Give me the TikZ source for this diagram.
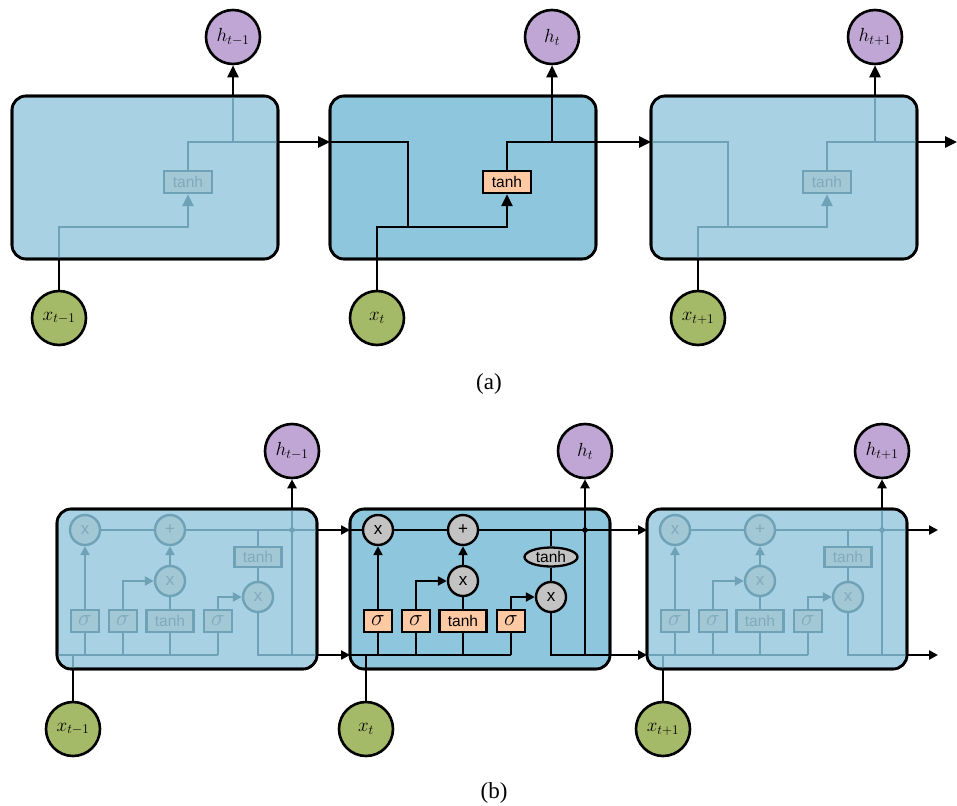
\RequirePackage{fix-cm}
\documentclass[tikz,border=0pt]{standalone}
\usepackage{fontspec}
\setmainfont{Liberation Serif}
\setsansfont{Liberation Sans}
\usetikzlibrary{arrows.meta,shapes.geometric}

\definecolor{cellblue}{HTML}{8EC6DD}
\definecolor{cellfade}{HTML}{A8D1E3}
\definecolor{fadeline}{HTML}{6FA2B6}
\definecolor{fadefill}{HTML}{A2C7D5}
\definecolor{fadetext}{HTML}{80AABB}
\definecolor{peach}{HTML}{FEC9A3}
\definecolor{opgray}{HTML}{C3C3C3}
\definecolor{hpurple}{HTML}{BFA6D4}
\definecolor{xgreen}{HTML}{A5BA68}

\tikzset{
  wire/.style={line width=2.5pt, draw=black},
  bwire/.style={line width=2.4pt, draw=black},
  bigtip/.style={-{Triangle[length=12pt,width=11pt]}},
  smalltip/.style={-{Triangle[length=9pt,width=9pt]}},
  cellbox/.style={draw=black, line width=2.6pt, rounded corners=14pt, outer sep=0pt, inner sep=0pt},
  border/.style={draw=black, line width=2.6pt, rounded corners=14pt},
  hcirc/.style={circle, draw=black, line width=2.6pt, fill=hpurple, minimum size=54pt, inner sep=0pt, font=\fontsize{19}{21}\selectfont},
  xcirc/.style={hcirc, fill=xgreen},
  caption/.style={font=\rmfamily\fontsize{23}{26}\selectfont},
  sig/.style={font=\fontsize{23}{25}\selectfont},
  jdot/.style={fill=black},
  % a live (highlighted) cell
  live/.style={
    cellfill/.style={fill=cellblue},
    inwire/.style={line width=2.4pt, draw=black},
    inwireA/.style={line width=2.5pt, draw=black},
    gatebox/.style={rectangle, draw=black, line width=2.3pt, fill=peach, minimum width=28pt, minimum height=22pt, inner sep=0pt, font=\sffamily\fontsize{15.5}{17}\selectfont},
    opnode/.style={circle, draw=black, line width=2.4pt, fill=opgray, minimum size=30pt, inner sep=0pt, font=\sffamily\fontsize{17}{19}\selectfont},
    outsq/.style={ellipse, draw=black, line width=2.3pt, fill=opgray, minimum width=53pt, minimum height=19pt, inner sep=0pt, font=\sffamily\fontsize{15.5}{17}\selectfont},
    jdot/.style={fill=black},
  },
  % a neighbouring (dimmed) cell
  faded/.style={
    cellfill/.style={fill=cellfade},
    inwire/.style={line width=2.4pt, draw=fadeline},
    inwireA/.style={line width=2.5pt, draw=fadeline},
    gatebox/.style={rectangle, draw=fadeline, text=fadetext, line width=2.3pt, fill=fadefill, minimum width=28pt, minimum height=22pt, inner sep=0pt, font=\sffamily\fontsize{15.5}{17}\selectfont},
    opnode/.style={circle, draw=fadeline, text=fadetext, line width=2.4pt, fill=fadefill, minimum size=30pt, inner sep=0pt, font=\sffamily\fontsize{17}{19}\selectfont},
    outsq/.style={rectangle, draw=fadeline, text=fadetext, line width=2.3pt, fill=fadefill, minimum width=47pt, minimum height=20pt, inner sep=0pt, font=\sffamily\fontsize{15.5}{17}\selectfont},
    jdot/.style={fill=fadeline},
  },
}

% LSTM cell: #1 = name suffix, #2 = left edge
\newcommand\lstmcell[2]{%
  \node[cellbox, cellfill, minimum width=260pt, minimum height=160pt] (box#1) at (#2+130,589) {};
  \node[opnode] (f#1) at (#2+28,530) {x};
  \node[opnode] (p#1) at (#2+113,530) {+};
  \node[opnode] (i#1) at (#2+113,581) {x};
  \node[opnode] (o#1) at (#2+201,597) {x};
  \node[gatebox, sig] (sf#1) at (#2+28,621) {$\sigma$};
  \node[gatebox, sig] (si#1) at (#2+66,621) {$\sigma$};
  \node[gatebox, minimum width=47pt] (tc#1) at (#2+113,621) {tanh};
  \node[gatebox, sig] (so#1) at (#2+161,621) {$\sigma$};
  \node[outsq] (to#1) at (#2+201,557) {tanh};
  \coordinate (cl#1) at (#2,530);
  \coordinate (cr#1) at (#2+260,530);
  \coordinate (bl#1) at (#2,655);
  \coordinate (br#1) at (#2+260,655);
  \coordinate (bs#1) at (#2+161,655);
  \coordinate (hb#1) at (#2+235,655);
  \coordinate (hc#1) at (#2+235,530);
  \coordinate (ht#1) at (#2+235,509);
  \coordinate (tj#1) at (#2+201,530);
  \coordinate (xj#1) at (#2+16,655);
  \coordinate (xe#1) at (#2+16,669);
  % cell state
  \draw[inwire] (f#1) -- (p#1);
  \draw[inwire] (p#1) -- (cr#1);
  % output branch
  \draw[inwire] (tj#1) -- (to#1);
  \draw[inwire] (to#1) -- (o#1);
  \draw[inwire] (o#1) |- (br#1);
  \draw[inwire] (hb#1) -- (ht#1);
  \fill[jdot] (hc#1) circle (2.8pt);
  % gates
  \draw[inwire, smalltip] (sf#1) -- (f#1);
  \draw[inwire, smalltip] (si#1) |- (i#1);
  \draw[inwire] (tc#1) -- (i#1);
  \draw[inwire, smalltip] (i#1) -- (p#1);
  \draw[inwire, smalltip] (so#1) |- (o#1);
  % input bus
  \draw[inwire] (bl#1) -- (bs#1);
  \draw[inwire] (sf#1) -- (sf#1 |- bl#1);
  \draw[inwire] (si#1) -- (si#1 |- bl#1);
  \draw[inwire] (tc#1) -- (tc#1 |- bl#1);
  \draw[inwire] (so#1) -- (so#1 |- bl#1);
  \draw[inwire] (xe#1) -- (xj#1);
  \draw[border] (box#1.south west) rectangle (box#1.north east);
}

\begin{document}
\begin{tikzpicture}[x=1pt,y=-1pt]
\useasboundingbox (0,0) rectangle (957,805);

% ---------------- (a) simple recurrent cells ----------------
\begin{scope}[faded]
  \node[cellbox, cellfill, minimum width=266pt, minimum height=163pt] (A1) at (145,177.5) {};
  \node[gatebox, minimum width=48pt] (ta1) at (188,182) {tanh};
  \coordinate (xe1) at (59,259);
  \coordinate (jl1) at (188,227);
  \coordinate (er1) at (278,142);
  \coordinate (hj1) at (233,142);
  \coordinate (ht1) at (233,96);
  \draw[inwireA, bigtip] (xe1) |- (jl1) -- (ta1);
  \draw[inwireA] (ta1) |- (er1);
  \draw[inwireA] (hj1) -- (ht1);
  \draw[border] (A1.south west) rectangle (A1.north east);
\end{scope}

\begin{scope}[live]
  \node[cellbox, cellfill, minimum width=266pt, minimum height=163pt] (A2) at (463,177.5) {};
  \node[gatebox, minimum width=48pt] (ta2) at (507,182) {tanh};
  \coordinate (wl2) at (330,142);
  \coordinate (kd2) at (408,227);
  \coordinate (jl2) at (507,227);
  \coordinate (er2) at (596,142);
  \coordinate (hj2) at (552,142);
  \draw[inwireA] (wl2) -| (kd2);
  \draw[border] (A2.south west) rectangle (A2.north east);
\end{scope}

\begin{scope}[faded]
  \node[cellbox, cellfill, minimum width=266pt, minimum height=163pt] (A3) at (784,177.5) {};
  \node[gatebox, minimum width=48pt] (ta3) at (827,182) {tanh};
  \coordinate (wl3) at (651,142);
  \coordinate (kd3) at (728,227);
  \coordinate (xe3) at (698,259);
  \coordinate (jl3) at (827,227);
  \coordinate (er3) at (917,142);
  \coordinate (hj3) at (875,142);
  \coordinate (ht3) at (875,96);
  \draw[inwireA] (wl3) -| (kd3);
  \draw[inwireA, bigtip] (xe3) |- (jl3) -- (ta3);
  \draw[inwireA] (ta3) |- (er3);
  \draw[inwireA] (hj3) -- (ht3);
  \draw[border] (A3.south west) rectangle (A3.north east);
\end{scope}
\coordinate (ea3) at (957,142);

\node[xcirc] (xa1) at (59,318) {$x_{t-1}$};
\node[xcirc] (xa2) at (377,318) {$x_{t}$};
\node[xcirc] (xa3) at (698,318) {$x_{t+1}$};
\node[hcirc] (ha1) at (233,37) {$h_{t-1}$};
\node[hcirc] (ha2) at (552,37) {$h_{t}$};
\node[hcirc] (ha3) at (875,37) {$h_{t+1}$};

\draw[wire] (xa1) -- (xe1);
\draw[wire, bigtip] (ht1) -- (ha1);
\draw[wire, bigtip] (er1) -- (wl2);
\draw[wire, bigtip] (xa2) |- (jl2) -- (ta2);
\draw[wire] (ta2) |- (er2);
\draw[wire, bigtip] (hj2) -- (ha2);
\draw[wire, bigtip] (er2) -- (wl3);
\draw[wire] (xa3) -- (xe3);
\draw[wire, bigtip] (ht3) -- (ha3);
\draw[wire, bigtip] (er3) -- (ea3);

\node[caption] (capa) at (489,384) {(a)};

% ---------------- (b) LSTM cells ----------------
\begin{scope}[faded]\lstmcell{1}{57}\end{scope}
\begin{scope}[live]
  \lstmcell{2}{350}
  \draw[inwire] (cl2) -- (f2);
\end{scope}
\begin{scope}[faded]\lstmcell{3}{647}\end{scope}
\coordinate (ec3) at (938,530);
\coordinate (eb3) at (938,655);

\node[xcirc] (xb1) at (73,729) {$x_{t-1}$};
\node[xcirc] (xb2) at (366,729) {$x_{t}$};
\node[xcirc] (xb3) at (663,729) {$x_{t+1}$};
\node[hcirc] (hb1) at (292,451) {$h_{t-1}$};
\node[hcirc] (hb2) at (585,451) {$h_{t}$};
\node[hcirc] (hb3) at (882,451) {$h_{t+1}$};

\draw[bwire] (xb1) -- (xe1);
\draw[bwire] (xb2) -- (xj2);
\draw[bwire] (xb3) -- (xe3);
\draw[bwire, smalltip] (ht1) -- (hb1);
\draw[bwire, smalltip] (ht2) -- (hb2);
\draw[bwire, smalltip] (ht3) -- (hb3);
\draw[bwire, smalltip] (cr1) -- (cl2);
\draw[bwire, smalltip] (br1) -- (bl2);
\draw[bwire, smalltip] (cr2) -- (cl3);
\draw[bwire, smalltip] (br2) -- (bl3);
\draw[bwire, smalltip] (cr3) -- (ec3);
\draw[bwire, smalltip] (br3) -- (eb3);

\node[caption] (capb) at (494,793) {(b)};
\end{tikzpicture}
\end{document}
